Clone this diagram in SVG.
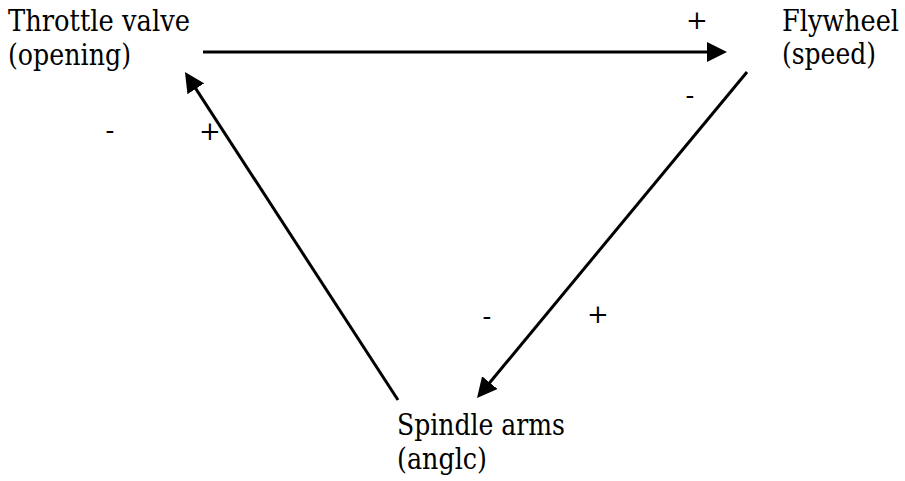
<svg xmlns="http://www.w3.org/2000/svg" width="905" height="481" viewBox="0 0 905 481">
<defs>
<marker id="ah" viewBox="0 0 20 20" refX="10" refY="10" markerWidth="20" markerHeight="20" markerUnits="userSpaceOnUse" orient="auto">
<path d="M0,0 L20,10 L0,20 z" fill="#000"/>
</marker>
</defs>
<rect width="905" height="481" fill="#fff"/>
<g id="throttle" font-family="DejaVu Serif, serif" font-size="30" fill="#000">
<text x="8" y="31" textLength="182" lengthAdjust="spacingAndGlyphs">Throttle valve</text>
<text x="8" y="65" textLength="123" lengthAdjust="spacingAndGlyphs">(opening)</text>
</g>
<g id="flywheel" font-family="DejaVu Serif, serif" font-size="30" fill="#000">
<text x="782" y="31" textLength="117" lengthAdjust="spacingAndGlyphs">Flywheel</text>
<text x="782" y="64" textLength="94" lengthAdjust="spacingAndGlyphs">(speed)</text>
</g>
<g id="spindle" font-family="DejaVu Serif, serif" font-size="30" fill="#000">
<text x="397" y="435" textLength="168" lengthAdjust="spacingAndGlyphs">Spindle arms</text>
<text x="397" y="469" textLength="90" lengthAdjust="spacingAndGlyphs">(anglc)</text>
</g>
<g id="connectors" stroke="#000" stroke-width="3" fill="none">
<line x1="203" y1="52" x2="717" y2="52" marker-end="url(#ah)"/>
<line x1="747" y1="72" x2="483.4" y2="390.3" marker-end="url(#ah)"/>
<line x1="398" y1="400" x2="190.4" y2="80.4" marker-end="url(#ah)"/>
</g>
<g id="signs" font-family="DejaVu Serif, serif" font-size="26" text-anchor="middle" fill="#000">
<text x="697" y="29">+</text>
<text x="690" y="104">-</text>
<text x="487" y="325">-</text>
<text x="598" y="323">+</text>
<text x="110" y="139">-</text>
<text x="210" y="140">+</text>
</g>
</svg>
